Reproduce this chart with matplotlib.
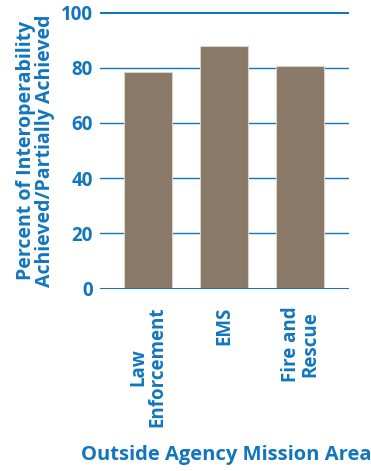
import matplotlib
matplotlib.use("Agg")
import matplotlib.pyplot as plt

categories = ["Law\nEnforcement", "EMS", "Fire and\nRescue"]
values = [78.3, 87.9, 80.5]
yticks = [0, 20, 40, 60, 80, 100]

BLUE = "#1276bd"
BAR = "#8a7967"

plt.rcParams['font.family'] = ['Open Sans', 'DejaVu Sans']
plt.rcParams['font.weight'] = 'bold'

fig = plt.figure(figsize=(3.71, 4.71), dpi=100)
ax = fig.add_axes([100/371, 1-288.7/471, 249/371, (288.7-12.3)/471])

x = list(range(len(categories)))
ax.bar(x, values, width=0.63, color=BAR, edgecolor="#d8d2c8", linewidth=0.8, zorder=3)

for t in yticks:
    lw = 2.2 if t in (0, 100) else 1.0
    ax.axhline(t, color=BLUE, lw=lw, zorder=2 if t != 0 else 4)

ax.set_xlim(-0.63, 2.64)
ax.set_ylim(0, 100)
ax.set_yticks(yticks)
ax.set_yticklabels([str(t) for t in yticks], color=BLUE, fontsize=13.5, fontweight='bold')
ax.set_xticks(x)
ax.set_xticklabels(categories, rotation=90, color=BLUE, fontsize=13.5, fontweight='bold',
                   va='top', ha='center', linespacing=0.95)
ax.tick_params(axis='both', length=0, pad=5)
ax.tick_params(axis='x', pad=13)
for s in ax.spines.values():
    s.set_visible(False)

ax.set_ylabel("Percent of Interoperability\nAchieved/Partially Achieved", color=BLUE,
              fontsize=14, fontweight='bold', linespacing=0.95, labelpad=4)
fig.text(226/371, 1-455/471, "Outside Agency Mission Area", color=BLUE, fontsize=14.5,
         fontweight='bold', ha='center', va='center')

fig.savefig("out.png", dpi=100)
